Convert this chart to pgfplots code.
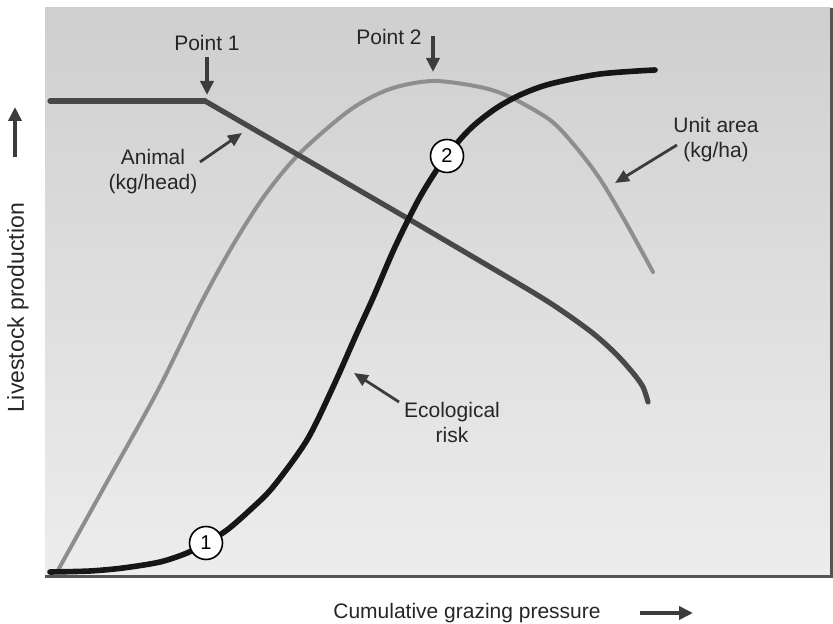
\documentclass[border=0pt]{standalone}
\usepackage{fontspec}
\setmainfont{Liberation Sans}
\usepackage{pgfplots}
\pgfplotsset{compat=1.18}
\usetikzlibrary{arrows.meta,shadings}
\definecolor{bgtop}{HTML}{CFCFCF}
\definecolor{bgbot}{HTML}{EDEDED}
\definecolor{animal}{HTML}{484848}
\definecolor{unit}{HTML}{8E8E8E}
\definecolor{risk}{HTML}{161616}
\definecolor{note}{HTML}{3C3C3C}
\definecolor{frame}{HTML}{555555}
\tikzset{
  lbl/.style={font=\fontsize{10.5}{12.5}\selectfont, text=black!85, align=center, inner sep=0pt},
  ptr/.style={-{Triangle[length=7pt,width=6pt]}, line width=1.4pt, draw=note},
  down/.style={-{Triangle[length=7pt,width=6.5pt]}, line width=2pt, draw=note},
  num/.style={circle, draw=black, line width=0.8pt, fill=white, minimum size=16.5pt,
              inner sep=0pt, font=\fontsize{10}{12}\selectfont},
}

% curves (1 unit = 1 px of the 833x624 reference)
\pgfplotstableread{
x y
5 476
160 476
}\animalflat
\pgfplotstableread{
x y
160 476
255 421
355 363
435 316
502 276
545 246
570 224
588 204
598 190
603 175
}\animal
\pgfplotstableread{
x y
12 5
62 95
112 185
155 272
188 332
220 382
255 424
305 467
345 488
388 496
435 490
465 480
505 457
530 431
555 398
580 356
608 305
}\unitarea
\pgfplotstableread{
x y
5 5
45 6
78 9
115 15
142 24
161 34
182 47
205 67
228 90
262 137
288 190
312 244
328 279
350 330
375 380
400 419
425 448
450 468
475 482
505 493
555 503
610 507
}\risk

\begin{document}
\begin{tikzpicture}
\begin{axis}[
  scale only axis, width=393pt, height=284.5pt,
  xmin=0, xmax=786, ymin=0, ymax=569,
  ticks=none, axis line style={draw=none}, clip=false,
  axis background/.style={top color=bgtop, bottom color=bgbot},
]
  \draw[frame, line width=1.5pt] (axis cs:0,0) -- (axis cs:786,0) -- (axis cs:786,569);

  \addplot[unit, line width=2pt, line cap=round, smooth] table {\unitarea};
  \addplot[animal, line width=2.6pt, line cap=round] table {\animalflat};
  \addplot[animal, line width=2.6pt, line cap=round, smooth] table {\animal};
  \addplot[risk, line width=2.8pt, line cap=round, smooth] table {\risk};

  % numbered points on the risk curve
  \addplot[only marks, mark=none, nodes near coords={1}, every node near coord/.style={num, anchor=center}]
    coordinates {(161,34)};
  \addplot[only marks, mark=none, nodes near coords={2}, every node near coord/.style={num, anchor=center}]
    coordinates {(402,421)};

  % annotations
  \node[lbl] at (axis cs:162,534) {Point 1};
  \draw[down] (axis cs:162,520) -- (axis cs:162,482);
  \node[lbl] at (axis cs:344,540) {Point 2};
  \draw[down] (axis cs:388,541) -- (axis cs:388,505);
  \node[lbl] at (axis cs:108,405) {Animal\\(kg/head)};
  \draw[ptr] (axis cs:155,415) -- (axis cs:197,444);
  \node[lbl] at (axis cs:671,437) {Unit area\\(kg/ha)};
  \draw[ptr] (axis cs:632,432) -- (axis cs:570,394);
  \node[lbl] at (axis cs:407,155) {Ecological\\risk};
  \draw[ptr] (axis cs:354,175) -- (axis cs:309,204);

  % axis titles with their arrows
  \node[lbl, rotate=90, font=\fontsize{11.5}{13}\selectfont] at (axis cs:-27,269) {Livestock production};
  \draw[down] (axis cs:-30,420) -- (axis cs:-30,470);
  \node[lbl] at (axis cs:422,-36) {Cumulative grazing pressure};
  \draw[down] (axis cs:595,-36) -- (axis cs:648,-36);

  \path (axis cs:-45,-47) rectangle (axis cs:788,577);
\end{axis}
\end{tikzpicture}
\end{document}
